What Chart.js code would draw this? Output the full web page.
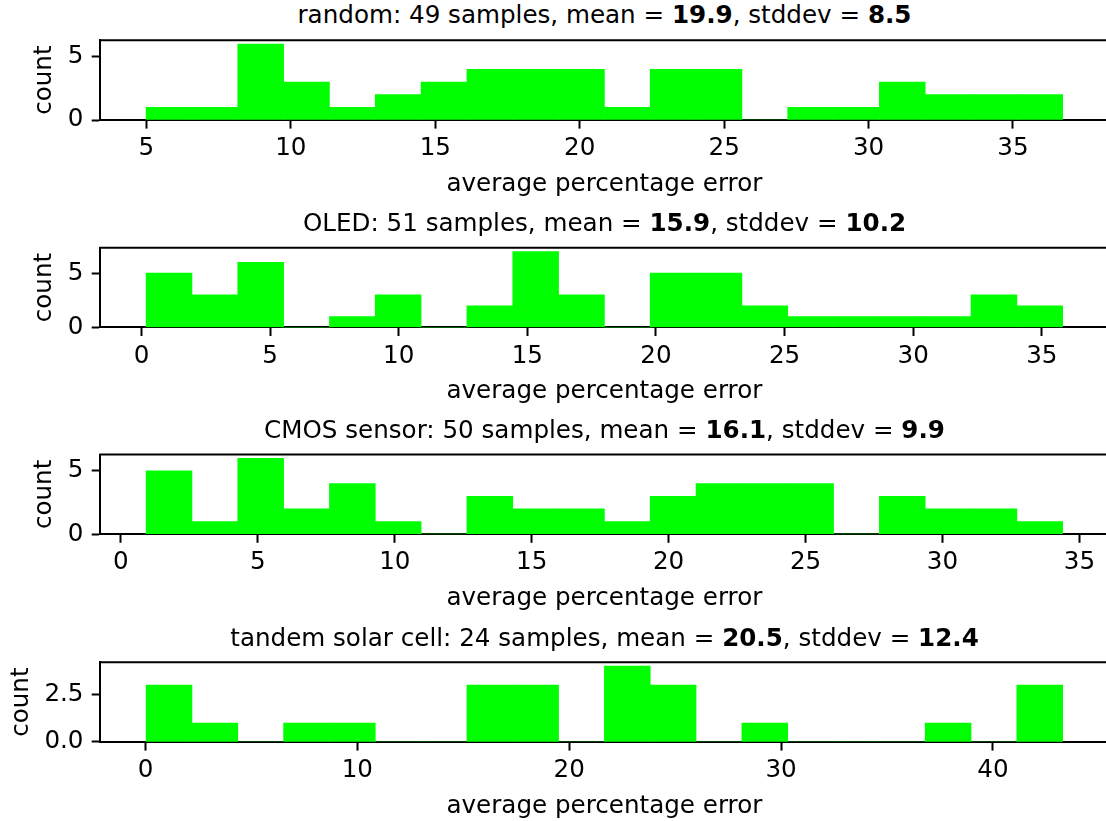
<!DOCTYPE html>
<html><head><meta charset="utf-8">
<script src="https://cdn.jsdelivr.net/npm/chart.js@4.4.0/dist/chart.umd.min.js"></script>
<style>
html,body{margin:0;padding:0;background:#fff;width:1106px;height:821px;overflow:hidden;}
#wrap{position:relative;width:1106px;height:821px;overflow:hidden;background:#fff;}
canvas{position:absolute;left:0;}
.title{position:absolute;left:0;width:1209px;text-align:center;white-space:nowrap;font-family:"DejaVu Sans";font-size:24.6px;line-height:30px;color:#000;}
.title b{font-weight:bold;}
</style></head><body><div id="wrap"></div>
<script>
// ---- data ----
const panelNames = ['random', 'OLED', 'CMOS sensor', 'tandem solar cell'];
const sampleCounts = [49, 51, 50, 24];
const means = ['19.9', '15.9', '16.1', '20.5'];
const stddevs = ['8.5', '10.2', '9.9', '12.4'];
const binMin = [4.99, 0.18, 0.92, 0.03];
const binMax = [36.72, 35.81, 34.39, 43.29];
const countsRandom = [1, 1, 6, 3, 1, 2, 3, 4, 4, 4, 1, 4, 4, 0, 1, 1, 3, 2, 2, 2];
const countsOLED   = [5, 3, 6, 0, 1, 3, 0, 2, 7, 3, 0, 5, 5, 2, 1, 1, 1, 1, 3, 2];
const countsCMOS   = [5, 1, 6, 2, 4, 1, 0, 3, 2, 2, 1, 3, 4, 4, 4, 0, 3, 2, 2, 1];
const countsTandem = [3, 1, 0, 1, 1, 0, 0, 3, 3, 0, 4, 3, 0, 1, 0, 0, 0, 1, 0, 3];
const xTicksRandom = [5, 10, 15, 20, 25, 30, 35];
const xTicksOLED   = [0, 5, 10, 15, 20, 25, 30, 35];
const xTicksCMOS   = [0, 5, 10, 15, 20, 25, 30, 35];
const xTicksTandem = [0, 10, 20, 30, 40];
const yTicksRandom = [0, 5];
const yTicksOLED   = [0, 5];
const yTicksCMOS   = [0, 5];
const yTicksTandem = [0, 2.5];
const yDecimals = [0, 0, 0, 1];
const xLabel = 'average percentage error';
const yLabel = 'count';

const allCounts = [countsRandom, countsOLED, countsCMOS, countsTandem];
const allXTicks = [xTicksRandom, xTicksOLED, xTicksCMOS, xTicksTandem];
const allYTicks = [yTicksRandom, yTicksOLED, yTicksCMOS, yTicksTandem];

// ---- layout ----
const FONT = 24.6;
const axesTops = [40.3, 247.7, 454.5, 662.3];
const axesH = 79.7;
const axesLeft = 100.3;
const axesRight = 1108.5;
const canvasW = 1120;
const canvasH = 210;
const yTitlePad = [30, 30, 30, 6.5];

Chart.defaults.font.family = '"DejaVu Sans", sans-serif';
Chart.defaults.font.size = FONT;
Chart.defaults.color = '#000';

const spinePlugin = {
  id: 'spines',
  afterDraw(chart) {
    const {ctx, chartArea: a} = chart;
    ctx.save();
    ctx.strokeStyle = '#000';
    ctx.lineWidth = 2;
    ctx.beginPath();
    ctx.moveTo(a.left - 1, a.top);
    ctx.lineTo(a.right, a.top);
    ctx.lineTo(a.right, a.bottom);
    ctx.stroke();
    ctx.restore();
  }
};

const wrap = document.getElementById('wrap');

for (let p = 0; p < 4; p++) {
  const counts = allCounts[p];
  const lo = binMin[p], hi = binMax[p];
  const n = counts.length;
  const w = (hi - lo) / n;
  const range = hi - lo;
  const pts = counts.map((c, i) => ({x: lo + (i + 0.5) * w, y: c}));
  const ymax = Math.max(...counts) * 1.05;

  const top = axesTops[p];
  const cTop = Math.floor(top) - 30;
  const padTop = top - cTop;
  const xAxisH = canvasH - padTop - axesH;

  const t = document.createElement('div');
  t.className = 'title';
  t.style.top = (top - 16.3 - 23.5) + 'px';
  t.innerHTML = panelNames[p] + ': ' + sampleCounts[p] + ' samples, mean = <b>' + means[p] +
    '</b>, stddev = <b>' + stddevs[p] + '</b>';
  wrap.appendChild(t);

  const cv = document.createElement('canvas');
  cv.width = canvasW; cv.height = canvasH;
  cv.style.width = canvasW + 'px'; cv.style.height = canvasH + 'px';
  cv.style.top = cTop + 'px';
  wrap.appendChild(cv);

  const xt = allXTicks[p], yt = allYTicks[p], dec = yDecimals[p];

  new Chart(cv, {
    type: 'bar',
    data: {
      datasets: [{
        data: pts,
        backgroundColor: '#00ff00',
        borderWidth: 0,
        barPercentage: 1,
        categoryPercentage: 1,
        grouped: false
      }]
    },
    options: {
      responsive: false,
      animation: false,
      devicePixelRatio: 1,
      events: [],
      layout: {padding: {top: padTop, left: 0, right: canvasW - axesRight, bottom: 0}},
      plugins: {legend: {display: false}, tooltip: {enabled: false}, title: {display: false}},
      scales: {
        x: {
          type: 'linear',
          offset: false,
          min: lo - 0.05 * range,
          max: hi + 0.05 * range,
          afterBuildTicks: s => { s.ticks = xt.map(v => ({value: v})); },
          afterFit: s => { s.height = xAxisH; },
          grid: {display: true, drawOnChartArea: false, drawTicks: true, tickLength: 8.6, tickWidth: 2, tickColor: '#000', offset: false},
          border: {display: true, color: '#000', width: 2},
          ticks: {color: '#000', font: {size: FONT}, padding: 5.5, maxRotation: 0, minRotation: 0, autoSkip: false,
                  callback: v => String(v)},
          title: {display: true, text: xLabel, color: '#000', font: {size: FONT}, padding: {top: 0, bottom: 20.5}}
        },
        y: {
          type: 'linear',
          min: 0,
          max: ymax,
          afterBuildTicks: s => { s.ticks = yt.map(v => ({value: v})); },
          afterFit: s => { s.width = axesLeft; },
          grid: {display: true, drawOnChartArea: false, drawTicks: true, tickLength: 8.6, tickWidth: 2, tickColor: '#000'},
          border: {display: true, color: '#000', width: 2},
          ticks: {color: '#000', font: {size: FONT}, padding: 8.2, autoSkip: false,
                  callback: v => Number(v).toFixed(dec)},
          title: {display: true, text: yLabel, color: '#000', font: {size: FONT}, padding: {top: yTitlePad[p], bottom: 0}}
        }
      }
    },
    plugins: [spinePlugin]
  });
}
</script></body></html>
